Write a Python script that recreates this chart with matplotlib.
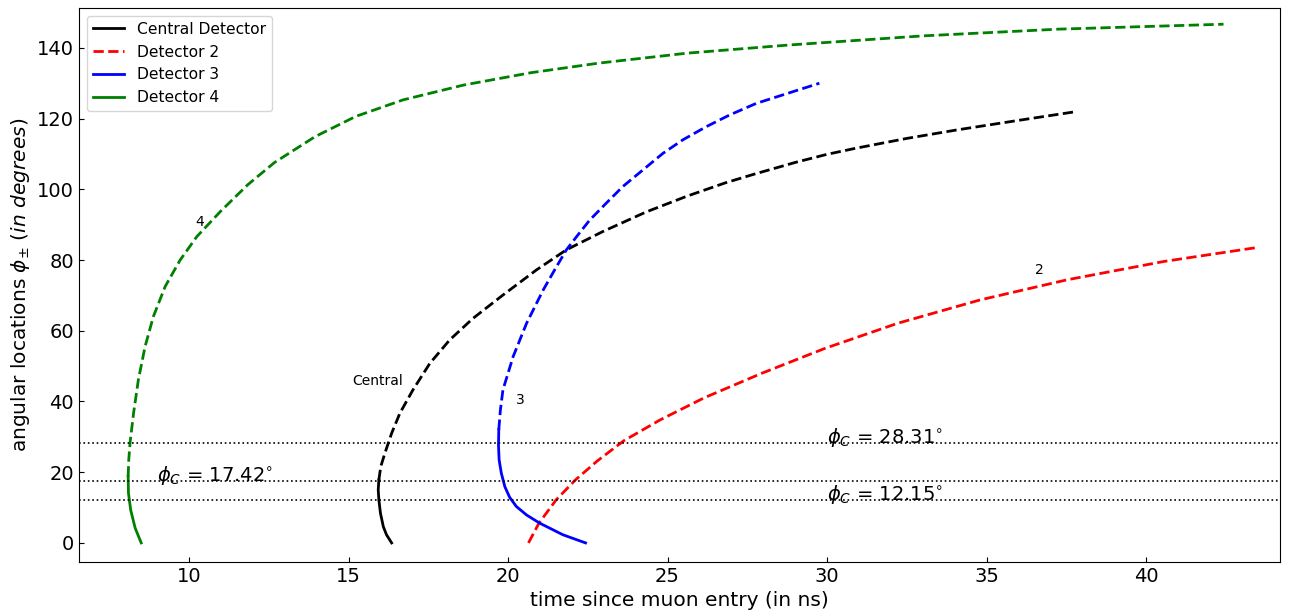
import numpy as np
import matplotlib
matplotlib.use("Agg")
import matplotlib.pyplot as plt

# temps d'arrivée (ns) vs position angulaire phi (deg), lus par détecteur
# les n premiers points (branche basse) en trait plein, le reste en tirets
central_t = [16.35, 16.19, 16.09, 16.00, 15.95, 15.93, 15.95, 16.01, 16.14, 16.35,
             16.61, 17.02, 17.55, 18.17, 18.90, 19.84, 20.89, 21.83, 22.98, 24.33,
             25.59, 26.80, 27.72, 29.00, 30.00, 30.89, 32.50, 34.07, 36.00, 37.75]
central_phi = [0.0, 2.3, 4.6, 8.4, 12.2, 15.0, 17.8, 21.6, 25.4, 31.0,
               36.7, 43.3, 50.8, 57.4, 63.5, 70.1, 77.2, 82.9, 88.1, 93.6,
               98.0, 101.8, 104.3, 107.6, 109.9, 111.6, 114.4, 116.8, 119.5, 121.9]
central_n_solid = 7

det2_t = [20.64, 20.97, 21.51, 22.11, 22.80, 23.63, 24.77, 26.14, 27.96, 29.93,
          32.21, 34.79, 37.52, 40.56, 43.52]
det2_phi = [0.0, 5.6, 12.2, 17.8, 23.2, 28.9, 34.8, 41.0, 48.0, 55.0,
            62.1, 68.7, 74.4, 79.6, 83.6]
det2_n_solid = 0

det3_t = [22.43, 21.72, 20.99, 20.58, 20.26, 20.05, 19.90, 19.79, 19.72, 19.70,
          19.71, 19.76, 19.84, 20.00, 20.16, 20.37, 20.58, 20.84, 21.10, 21.46,
          21.83, 22.19, 22.56, 23.08, 23.60, 24.23, 24.86, 25.48, 26.21, 26.94,
          27.78, 28.82, 29.76]
det3_phi = [0.0, 2.3, 5.6, 7.9, 10.3, 12.9, 15.9, 19.7, 23.5, 27.7,
            32.0, 37.6, 43.3, 48.0, 52.7, 57.4, 62.1, 66.8, 71.5, 77.2,
            82.9, 87.1, 91.3, 96.1, 100.8, 105.5, 110.2, 114.0, 117.7, 121.0,
            124.3, 127.3, 130.0]
det3_n_solid = 11

det4_t = [8.50, 8.31, 8.17, 8.10, 8.09, 8.11, 8.15, 8.26, 8.41, 8.62, 8.88, 9.25,
          9.72, 10.24, 10.99, 11.84, 12.68, 13.95, 15.22, 16.71, 18.61, 20.73,
          22.85, 25.60, 28.78, 33.01, 37.25, 42.43]
det4_phi = [0.0, 4.2, 9.3, 14.1, 18.8, 23.5, 28.3, 36.7, 46.1, 55.5, 64.0, 72.5,
            80.0, 86.6, 93.8, 101.3, 107.6, 114.9, 120.6, 125.3, 129.5, 133.0,
            135.7, 138.5, 140.8, 143.4, 145.3, 146.7]
det4_n_solid = 5

# angles critiques
phi_c = [28.31, 17.42, 12.15]
phi_c_text_x = [30, 9, 30]

curves = [
    ("Central Detector", "black", central_t, central_phi, central_n_solid, "Central", (15.92, 45.8)),
    ("Detector 2", "red", det2_t, det2_phi, det2_n_solid, "2", (36.65, 77.2)),
    ("Detector 3", "blue", det3_t, det3_phi, det3_n_solid, "3", (20.40, 40.4)),
    ("Detector 4", "green", det4_t, det4_phi, det4_n_solid, "4", (10.34, 90.8)),
]

fig = plt.figure(figsize=(12.89, 6.11), dpi=100)
ax = fig.add_axes([0.0613, 0.0802, 0.9317, 0.9068])

handles = []
for name, col, t, phi, n, lab, pos in curves:
    t = np.asarray(t); phi = np.asarray(phi)
    if n > 0:
        h, = ax.plot(t[:n], phi[:n], color=col, lw=2, ls="-", label=name)
        ax.plot(t[n - 1:], phi[n - 1:], color=col, lw=2, ls="--")
    else:
        h, = ax.plot(t, phi, color=col, lw=2, ls="--", label=name)
    handles.append(h)
    ax.text(pos[0], pos[1], lab, fontsize=10, ha="center", va="center")

for p, xt in zip(phi_c, phi_c_text_x):
    ax.axhline(p, color="black", ls=":", lw=1.2)
    ax.text(xt, p, rf"$\phi_C$ = {p:.2f}$^{{\circ}}$", fontsize=14, va="baseline")

ax.set_xlim(6.55, 44.2)
ax.set_ylim(-5.4, 151.3)
ax.set_xticks([10, 15, 20, 25, 30, 35, 40])
ax.set_yticks([0, 20, 40, 60, 80, 100, 120, 140])
ax.tick_params(labelsize=14, direction="in")
ax.set_xlabel("time since muon entry (in ns)", fontsize=14.5)
ax.set_ylabel(r"angular locations $\phi_{\pm}$ ($in\ degrees$)", fontsize=14.5)
ax.legend(handles=handles, loc="upper left", fontsize=11.2)

fig.savefig("out.png", dpi=100)
